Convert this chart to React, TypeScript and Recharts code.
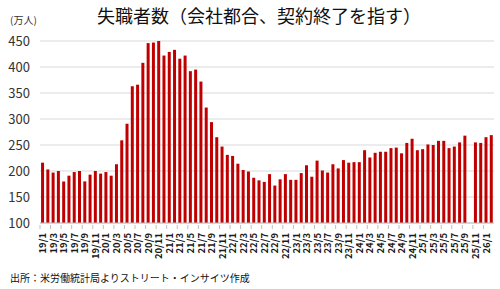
import { Bar, BarChart, CartesianGrid, XAxis, YAxis } from 'recharts'

const W = 500
const H = 289
const PLOT_LEFT = 40
const PLOT_RIGHT = 6
const font = '"Noto Sans CJK JP", "Noto Sans", sans-serif'

const months = [
  '19/1', '19/2', '19/3', '19/4', '19/5', '19/6', '19/7', '19/8', '19/9', '19/10', '19/11', '19/12',
  '20/1', '20/2', '20/3', '20/4', '20/5', '20/6', '20/7', '20/8', '20/9', '20/10', '20/11', '20/12',
  '21/1', '21/2', '21/3', '21/4', '21/5', '21/6', '21/7', '21/8', '21/9', '21/10', '21/11', '21/12',
  '22/1', '22/2', '22/3', '22/4', '22/5', '22/6', '22/7', '22/8', '22/9', '22/10', '22/11', '22/12',
  '23/1', '23/2', '23/3', '23/4', '23/5', '23/6', '23/7', '23/8', '23/9', '23/10', '23/11', '23/12',
  '24/1', '24/2', '24/3', '24/4', '24/5', '24/6', '24/7', '24/8', '24/9', '24/10', '24/11', '24/12',
  '25/1', '25/2', '25/3', '25/4', '25/5', '25/6', '25/7', '25/8', '25/9', '25/10', '25/11', '25/12',
  '26/1', '26/2',
]

// 万人, 25/10 is missing (no survey)
const losers: (number | null)[] = [
  216, 203, 197, 200, 180, 191, 198, 200, 180, 193, 200, 195,
  198, 191, 213, 259, 291, 363, 366, 408, 446, 447, 450, 422,
  429, 433, 416, 422, 392, 395, 372, 322, 294, 265, 247, 231,
  229, 214, 202, 199, 187, 182, 179, 194, 172, 184, 194, 183,
  183, 196, 211, 189, 220, 201, 197, 213, 205, 221, 216, 217,
  217, 240, 226, 235, 237, 237, 244, 245, 234, 254, 262, 240,
  242, 251, 250, 258, 258, 244, 247, 255, 268, null, 255, 254,
  265, 269,
]

const yTicks = [100, 150, 200, 250, 300, 350, 400, 450]

const data = months.map((m, i) => ({ month: m, value: losers[i] }))

const band = (W - PLOT_LEFT - PLOT_RIGHT) / months.length

function MonthTick(props: any) {
  const { x, y, payload } = props
  if (payload.index % 2 !== 0) return null
  return (
    <g transform={`translate(${x},${y})`}>
      <line x1={-band / 2} x2={-band / 2} y1={0} y2={4} stroke="#bfbfbf" />
      <text
        transform="rotate(-90)"
        x={-8}
        y={3.5}
        textAnchor="end"
        fontSize={9.5}
        fontWeight="bold"
        fill="#1a1a1a"
        fontFamily={font}
      >
        {payload.value}
      </text>
    </g>
  )
}

export default function App() {
  return (
    <div style={{ position: 'absolute', left: 0, top: 0, width: W, height: H, background: '#fff', fontFamily: font }}>
      <div style={{ position: 'absolute', left: 97, top: 3, fontSize: 18, lineHeight: '24px', color: '#111', whiteSpace: 'nowrap' }}>
        失職者数（会社都合、契約終了を指す）
      </div>
      <div style={{ position: 'absolute', left: 10, top: 14, fontSize: 10, lineHeight: '12px', color: '#333' }}>
        (万人)
      </div>
      <BarChart
        width={W}
        height={H}
        data={data}
        margin={{ top: 41, right: PLOT_RIGHT, bottom: 0, left: 0 }}
        barCategoryGap="20%"
      >
        <CartesianGrid stroke="#d9d9d9" vertical={false} />
        <XAxis
          dataKey="month"
          interval={0}
          height={66}
          tickLine={false}
          tickSize={0}
          axisLine={{ stroke: '#bfbfbf' }}
          tick={<MonthTick />}
        />
        <YAxis
          domain={[100, 450]}
          ticks={yTicks}
          width={PLOT_LEFT}
          axisLine={false}
          tickLine={false}
          tickSize={0}
          tickMargin={10}
          tick={{ fill: '#333', fontSize: 13, fontFamily: font }}
        />
        <Bar dataKey="value" fill="#c00000" isAnimationActive={false} />
      </BarChart>
      <div style={{ position: 'absolute', left: 10, top: 271, fontSize: 10, lineHeight: '14px', color: '#111', whiteSpace: 'nowrap' }}>
        出所：米労働統計局よりストリート・インサイツ作成
      </div>
    </div>
  )
}
